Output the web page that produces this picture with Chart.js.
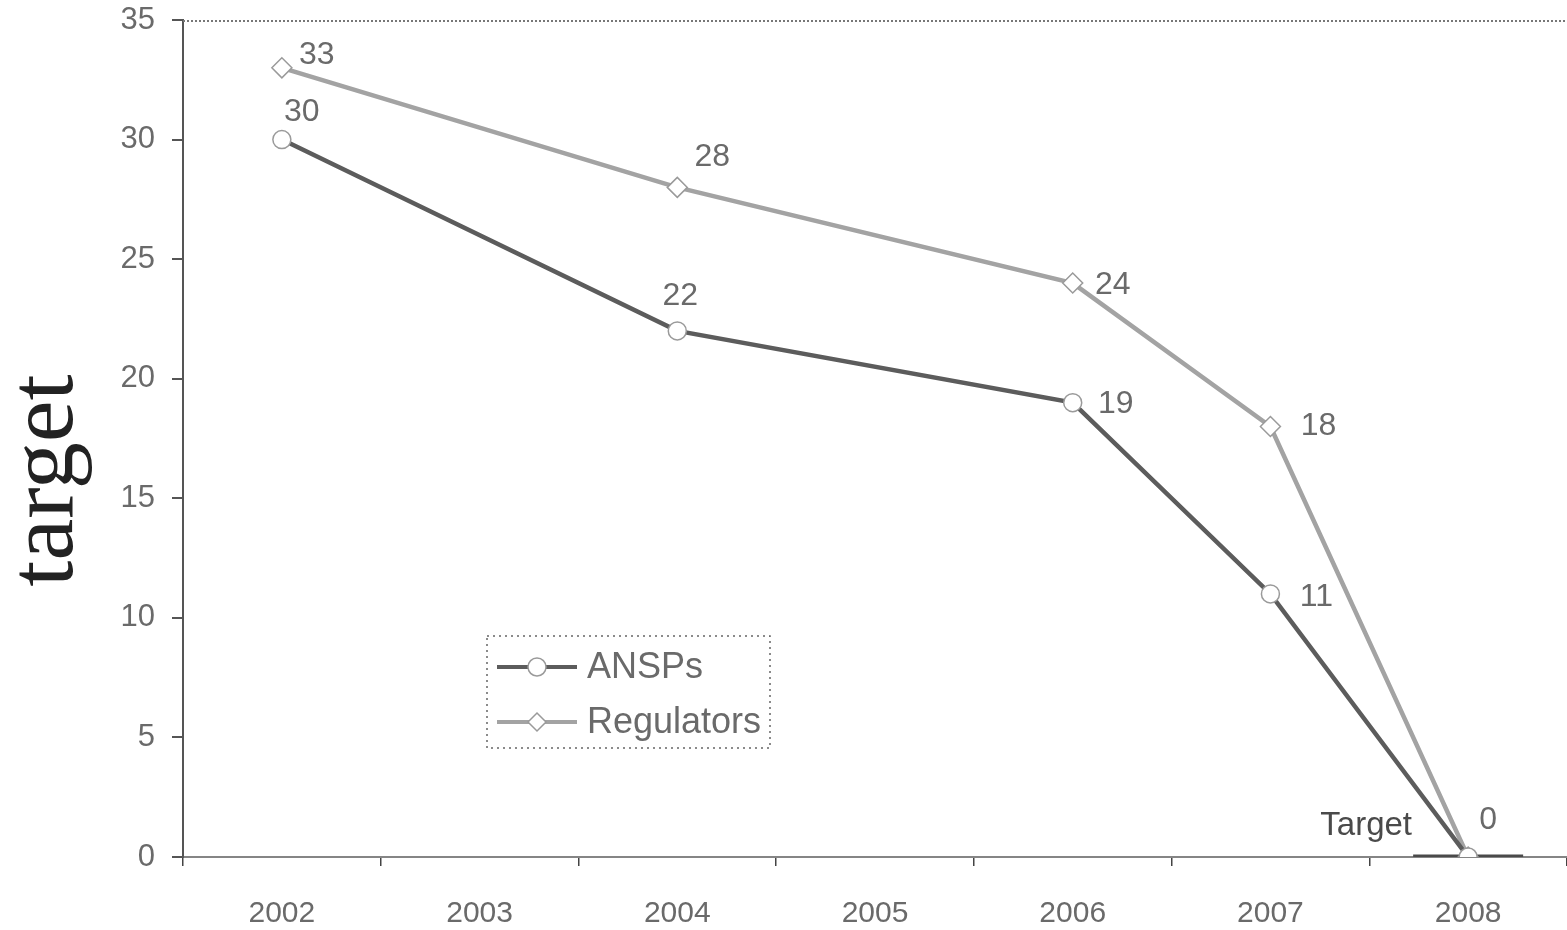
<!DOCTYPE html>
<html>
<head>
<meta charset="utf-8">
<title>ANSPs / Regulators target</title>
<script src="https://cdn.jsdelivr.net/npm/chart.js@4.4.1/dist/chart.umd.min.js"></script>
<style>
  html, body { margin: 0; padding: 0; background: #fff; }
  #wrap { width: 1567px; height: 930px; }
</style>
</head>
<body>
<div id="wrap"><canvas id="chart" width="1567" height="930"></canvas></div>
<script>
    'use strict';

    // values
    const years = ['2002', '2003', '2004', '2005', '2006', '2007', '2008'];
    const ansps = [30, null, 22, null, 19, 11, 0];
    const regulators = [33, null, 28, null, 24, 18, 0];
    const target = [null, null, null, null, null, null, 0];
    const yTicks = [0, 5, 10, 15, 20, 25, 30, 35];

    const GREY_DARK = '#5c5c5c';
    const GREY_LIGHT = '#a3a3a3';
    const TEXT = '#6a6a6a';
    const SANS = '"Liberation Sans", Arial, sans-serif';

    // label offsets from the point, per dataset (px)
    const labelOffsets = {
        0: [[20, -27], null, [3, -35], null, [43, 2], [46, 3], null],
        1: [[35, -13], null, [35, -30], null, [40, 2], [48, 0], [20, -37]]
    };

    const valueLabels = {
        id: 'valueLabels',
        afterDatasetsDraw(chart) {
            const ctx = chart.ctx;
            ctx.save();
            ctx.font = '32px ' + SANS;
            ctx.fillStyle = TEXT;
            ctx.textAlign = 'center';
            ctx.textBaseline = 'middle';
            Object.keys(labelOffsets).forEach(function (di) {
                const meta = chart.getDatasetMeta(+di);
                const data = chart.data.datasets[di].data;
                meta.data.forEach(function (pt, i) {
                    const off = labelOffsets[di][i];
                    if (!off || data[i] === null) return;
                    ctx.fillText(String(data[i]), pt.x + off[0], pt.y + off[1]);
                });
            });
            // "Target" tag beside the target mark
            const tp = chart.getDatasetMeta(2).data[6];
            ctx.font = '33px ' + SANS;
            ctx.fillStyle = '#4a4a4a';
            ctx.fillText('Target', tp.x - 102, tp.y - 31);
            ctx.restore();
        }
    };

    const frame = {
        id: 'frame',
        beforeDatasetsDraw(chart) {
            const a = chart.chartArea;
            const ctx = chart.ctx;
            ctx.save();
            // dotted top border
            ctx.strokeStyle = '#777';
            ctx.lineWidth = 2;
            ctx.setLineDash([2, 2]);
            ctx.beginPath();
            ctx.moveTo(a.left, a.top + 1);
            ctx.lineTo(a.right, a.top + 1);
            ctx.stroke();
            ctx.restore();
        },
        afterDraw(chart) {
            const ctx = chart.ctx;
            const a = chart.chartArea;
            ctx.save();
            // y axis title
            ctx.translate(72, (a.top + a.bottom) / 2 + 42);
            ctx.rotate(-Math.PI / 2);
            ctx.font = '94px "Liberation Serif", "Times New Roman", serif';
            ctx.fillStyle = '#222';
            ctx.textAlign = 'center';
            ctx.textBaseline = 'alphabetic';
            ctx.fillText('target', 0, 0);
            ctx.restore();

            // legend box
            ctx.save();
            const bx = 487, by = 636, bw = 283, bh = 112;
            ctx.strokeStyle = '#666';
            ctx.lineWidth = 1.5;
            ctx.setLineDash([2, 4]);
            ctx.strokeRect(bx, by, bw, bh);
            ctx.setLineDash([]);
            const items = [
                { text: 'ANSPs', color: GREY_DARK, style: 'circle', y: by + 31 },
                { text: 'Regulators', color: GREY_LIGHT, style: 'rectRot', y: by + 86 }
            ];
            items.forEach(function (it) {
                ctx.strokeStyle = it.color;
                ctx.lineWidth = 4;
                ctx.beginPath();
                ctx.moveTo(bx + 10, it.y);
                ctx.lineTo(bx + 90, it.y);
                ctx.stroke();
                ctx.fillStyle = '#fff';
                ctx.strokeStyle = '#9a9a9a';
                ctx.lineWidth = 1.5;
                Chart.helpers.drawPoint(ctx, { pointStyle: it.style, radius: 9, borderWidth: 1.5 }, bx + 50, it.y);
                ctx.fillStyle = TEXT;
                ctx.font = '36px ' + SANS;
                ctx.textAlign = 'left';
                ctx.textBaseline = 'middle';
                ctx.fillText(it.text, bx + 100, it.y + 1);
            });
            ctx.restore();
        }
    };

    const config = {
        type: 'line',
        data: {
            labels: years,
            datasets: [{
                label: 'ANSPs',
                data: ansps,
                borderColor: GREY_DARK,
                borderWidth: 4.5,
                spanGaps: true,
                tension: 0,
                pointStyle: 'circle',
                pointRadius: 9,
                pointBackgroundColor: '#fff',
                pointBorderColor: '#9a9a9a',
                pointBorderWidth: 1.5
            }, {
                label: 'Regulators',
                data: regulators,
                borderColor: GREY_LIGHT,
                borderWidth: 4.5,
                spanGaps: true,
                tension: 0,
                pointStyle: 'rectRot',
                pointRadius: 10,
                pointBackgroundColor: '#fff',
                pointBorderColor: '#9a9a9a',
                pointBorderWidth: 1.5
            }, {
                label: 'Target',
                data: target,
                showLine: false,
                pointStyle: 'line',
                pointRadius: 55,
                pointBorderColor: '#4a4a4a',
                pointBorderWidth: 5
            }]
        },
        options: {
            responsive: false,
            animation: false,
            layout: { autoPadding: false, padding: { top: 20, right: 0, left: 0, bottom: 0 } },
            plugins: {
                legend: { display: false },
                tooltip: { enabled: false }
            },
            scales: {
                x: {
                    offset: true,
                    afterFit: function (scale) {
                        scale.height = 73;
                        scale.paddingLeft = 0;
                        scale.paddingRight = 0;
                    },
                    border: { color: '#858585', width: 2 },
                    grid: {
                        offset: true,
                        drawOnChartArea: false,
                        tickLength: 9,
                        color: '#444',
                        lineWidth: 1.5
                    },
                    ticks: {
                        color: TEXT,
                        padding: 30,
                        font: { size: 30, family: SANS }
                    }
                },
                y: {
                    min: 0,
                    max: 35,
                    afterFit: function (scale) {
                        scale.width = 183;
                        // keep the plot top at the layout padding
                        scale.paddingTop = 0;
                        scale.paddingBottom = 0;
                    },
                    afterBuildTicks: function (scale) {
                        scale.ticks = yTicks.map(function (v) { return { value: v }; });
                    },
                    border: { color: '#555', width: 2, dash: [2, 2] },
                    grid: {
                        drawOnChartArea: false,
                        tickLength: 11,
                        color: '#555',
                        lineWidth: 2
                    },
                    ticks: {
                        color: TEXT,
                        padding: 17,
                        font: { size: 31, family: SANS }
                    }
                }
            }
        },
        plugins: [frame, valueLabels]
    };

    const chart = new Chart(document.getElementById('chart').getContext('2d'), config);
</script>
</body>
</html>
